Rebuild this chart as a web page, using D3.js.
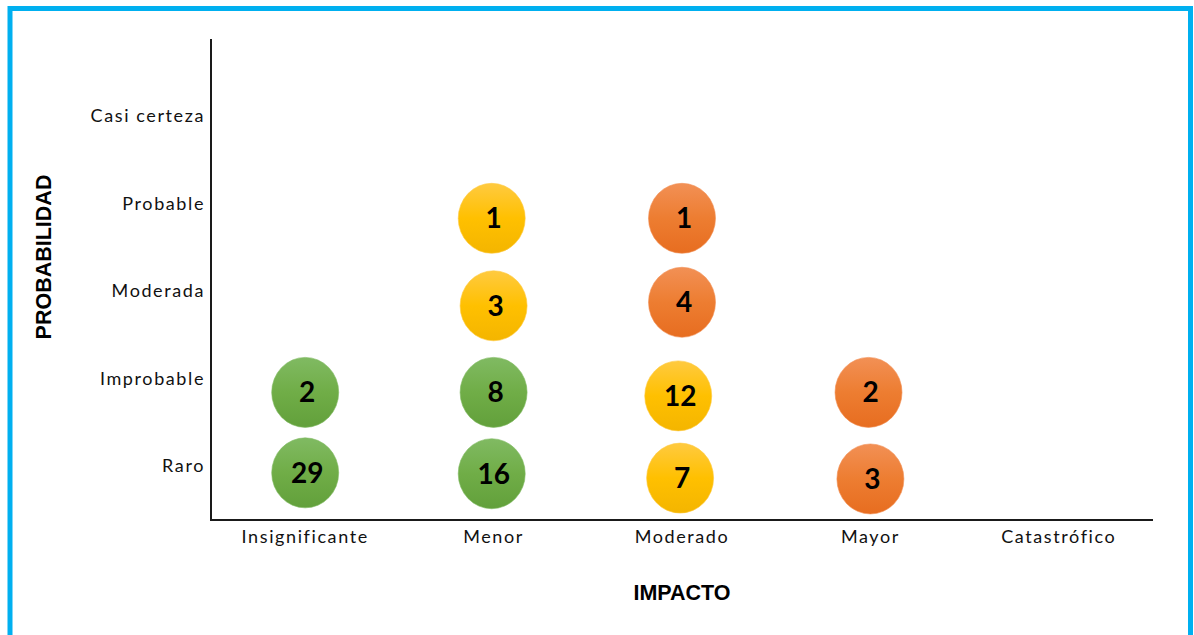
<!DOCTYPE html>
<html>
<head>
<meta charset="utf-8">
<script src="https://cdn.jsdelivr.net/npm/d3@7"></script>
<style>
  html, body { margin: 0; padding: 0; background: #fff; }
  svg { display: block; }
  .tick-label { font-family: Lato, "Open Sans", sans-serif; font-size: 18px; fill: #111; letter-spacing: 1.6px; }
  .axis-title { font-family: "Liberation Sans", Arial, sans-serif; font-weight: bold; font-size: 21.5px; fill: #000; }
  .count { font-family: Lato, "Open Sans", sans-serif; font-weight: bold; font-size: 28px; fill: #000; }
</style>
</head>
<body>
<script>
// Category labels for both axes
const impactLabels = ["Insignificante", "Menor", "Moderado", "Mayor", "Catastrófico"];
const probabilityLabels = ["Raro", "Improbable", "Moderada", "Probable", "Casi certeza"];

// Risk bubbles: impact position, probability position, number of risks, risk level
const bubbleImpact = [1.0, 1.0, 2.0, 1.99, 2.0, 1.99, 2.98, 2.99, 3.0, 3.0, 3.99, 4.0];
const bubbleProb   = [1.83, 0.91, 1.83, 0.90, 2.82, 3.82, 1.79, 0.85, 3.82, 2.86, 1.83, 0.84];
const bubbleCount  = [2, 29, 8, 16, 3, 1, 12, 7, 1, 4, 2, 3];
const bubbleLevel  = ["bajo", "bajo", "bajo", "bajo", "medio", "medio", "medio", "medio", "alto", "alto", "alto", "alto"];

const levelColors = {
  bajo:  ["#80ba62", "#70ad47", "#62a03b"],
  medio: ["#ffca40", "#ffc000", "#f4b500"],
  alto:  ["#f29055", "#ed7d31", "#e76d20"]
};

const W = 1194, H = 635;
const svg = d3.select("body").append("svg").attr("width", W).attr("height", H);

// Outer frame
svg.append("rect")
  .attr("x", 10).attr("y", 8.5)
  .attr("width", 1180.5).attr("height", 660)
  .attr("fill", "#fff")
  .attr("stroke", "#00b0f0").attr("stroke-width", 5);

const defs = svg.append("defs");
Object.entries(levelColors).forEach(([k, c]) => {
  const g = defs.append("linearGradient").attr("id", "grad-" + k)
    .attr("x1", 0).attr("y1", 0).attr("x2", 0).attr("y2", 1);
  g.append("stop").attr("offset", "0%").attr("stop-color", c[0]);
  g.append("stop").attr("offset", "50%").attr("stop-color", c[1]);
  g.append("stop").attr("offset", "100%").attr("stop-color", c[2]);
});

// Scales
const x = d3.scaleLinear().domain([0.5, 5.5]).range([211, 1153]);
const y = d3.scaleLinear().domain([0.371, 5.87]).range([520, 39]);

// Axis lines
svg.append("line")
  .attr("x1", x(0.5)).attr("x2", x(0.5))
  .attr("y1", y(5.87)).attr("y2", y(0.371))
  .attr("stroke", "#1a1a1a").attr("stroke-width", 2);
svg.append("line")
  .attr("x1", x(0.5) - 1).attr("x2", x(5.5))
  .attr("y1", y(0.371)).attr("y2", y(0.371))
  .attr("stroke", "#1a1a1a").attr("stroke-width", 2);

// Category labels
svg.selectAll("text.xlab").data(impactLabels).join("text")
  .attr("class", "tick-label xlab")
  .attr("x", (d, i) => x(i + 1))
  .attr("y", 543)
  .attr("text-anchor", "middle")
  .text(d => d);

svg.selectAll("text.ylab").data(probabilityLabels).join("text")
  .attr("class", "tick-label ylab")
  .attr("x", 205)
  .attr("y", (d, i) => y(i + 1) + 7)
  .attr("text-anchor", "end")
  .text(d => d);

// Axis titles
svg.append("text").attr("class", "axis-title")
  .attr("x", 682).attr("y", 600)
  .attr("text-anchor", "middle")
  .text("IMPACTO");
svg.append("text").attr("class", "axis-title")
  .attr("transform", "translate(51,257) rotate(-90)")
  .attr("text-anchor", "middle")
  .text("PROBABILIDAD");

// Bubbles
const bubbles = bubbleCount.map((n, i) => ({
  cx: bubbleImpact[i], cy: bubbleProb[i], n, level: bubbleLevel[i]
}));

const g = svg.selectAll("g.bubble").data(bubbles).join("g")
  .attr("class", "bubble")
  .attr("transform", d => `translate(${x(d.cx)},${y(d.cy)})`);

g.append("ellipse")
  .attr("rx", 33.5).attr("ry", 35)
  .attr("fill", d => `url(#grad-${d.level})`)
  .attr("stroke", d => levelColors[d.level][0])
  .attr("stroke-opacity", 0.6)
  .attr("stroke-width", 1);

g.append("text").attr("class", "count")
  .attr("x", 2)
  .attr("y", 10)
  .attr("text-anchor", "middle")
  .text(d => d.n);
</script>
</body>
</html>
